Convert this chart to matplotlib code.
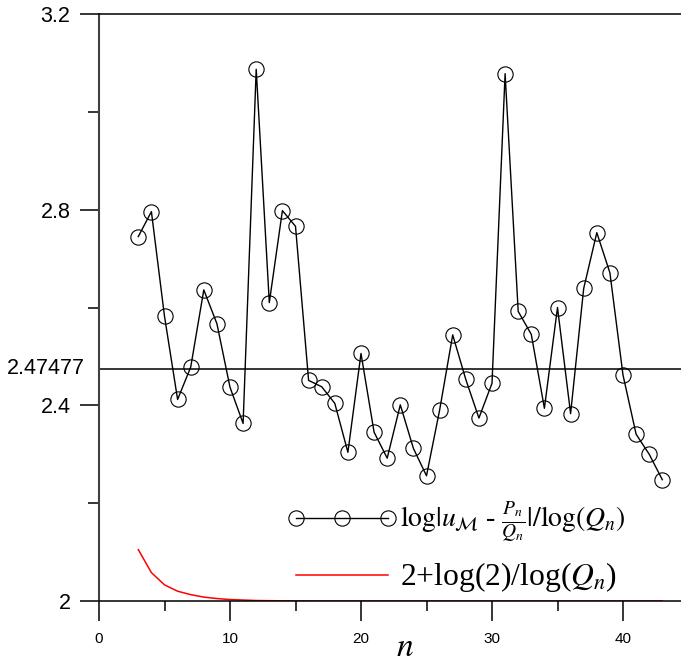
import matplotlib
matplotlib.use("Agg")
import matplotlib.pyplot as plt
from matplotlib.ticker import FixedLocator

# ---- data ----
n_vals = list(range(3, 44))
ratio_vals = [2.745, 2.796, 2.582, 2.412, 2.478, 2.636, 2.567, 2.437, 2.363, 3.087,
              2.610, 2.798, 2.766, 2.451, 2.438, 2.404, 2.304, 2.506, 2.345, 2.292,
              2.401, 2.312, 2.256, 2.390, 2.544, 2.453, 2.374, 2.445, 3.078, 2.592,
              2.545, 2.394, 2.600, 2.383, 2.639, 2.753, 2.671, 2.462, 2.341, 2.300,
              2.248]
bound_vals = [2.105, 2.058, 2.033, 2.020, 2.013, 2.008, 2.005, 2.003, 2.002, 2.001,
              2.0007, 2.0004, 2.0002, 2.0001] + [2.0] * 27
ref_level = 2.47477
x_major = [0, 10, 20, 30, 40]
x_minor = [5, 15, 25, 35]
y_major = [2.0, 2.4, 2.8, 3.2]
y_major_labels = ["2", "2.4", "2.8", "3.2"]
y_minor = [2.2, 2.6, 3.0]
label_main = r"$\log|u_{\mathcal{M}}$ - $\frac{P_n}{Q_n}|/\log(Q_n)$"
label_bound = r"2+log(2)/log($Q_n$)"

plt.rcParams["mathtext.fontset"] = "stix"
plt.rcParams["font.family"] = ["Liberation Sans", "DejaVu Sans"]

W, H = 681, 662
fig = plt.figure(figsize=(W / 100, H / 100), dpi=100)
ax = fig.add_axes([99 / W, 61 / H, (W - 99) / W, 587 / H])

ax.plot(n_vals, ratio_vals, color="black", lw=1.0, marker="o", ms=11,
        mfc="none", mec="black", mew=0.8, label=label_main, zorder=3)
ax.plot(n_vals, bound_vals, color="red", lw=1.1, label=label_bound, zorder=2)
ax.axhline(ref_level, color="black", lw=1.1, zorder=1)

ax.set_xlim(0, (W - 99) / 13.1)
ax.set_ylim(2.0, 3.2)

ax.xaxis.set_major_locator(FixedLocator(x_major))
ax.xaxis.set_minor_locator(FixedLocator(x_minor))
ax.yaxis.set_major_locator(FixedLocator(y_major))
ax.yaxis.set_minor_locator(FixedLocator(y_minor))
ax.set_yticklabels(y_major_labels)

ax.tick_params(axis="x", which="major", direction="out", length=14.5, width=1.1,
               labelsize=11, pad=8, color="black")
ax.tick_params(axis="x", which="minor", direction="out", length=7.5, width=1.1)
ax.tick_params(axis="y", which="major", direction="out", length=13.5, width=1.1,
               labelsize=15.5, pad=7)
ax.tick_params(axis="y", which="minor", direction="out", length=8, width=1.1)

ax.spines["right"].set_visible(False)
ax.spines["left"].set_color("#404040")
ax.spines["left"].set_linewidth(1.5)
ax.spines["bottom"].set_linewidth(1.1)
ax.spines["top"].set_linewidth(1.1)

ax.annotate("2.47477", xy=(0, ref_level), xycoords=("axes fraction", "data"),
            xytext=(-10, 0), textcoords="offset points", ha="right", va="center",
            fontsize=15.5)

fig.text(405 / W, 1 - 647 / H, r"$n$", fontsize=24, ha="center", va="center")

leg = ax.legend(loc="lower left", bbox_to_anchor=((287 - 99) / (W - 99), 0.012),
                frameon=False, numpoints=3, handlelength=3.76, handletextpad=0.1,
                labelspacing=0.5, borderpad=0, borderaxespad=0,
                prop={"family": "Liberation Serif", "size": 21})
leg.get_texts()[0].set_fontsize(20)
leg.get_texts()[1].set_fontsize(22.8)

fig.savefig("out.png", dpi=100)
